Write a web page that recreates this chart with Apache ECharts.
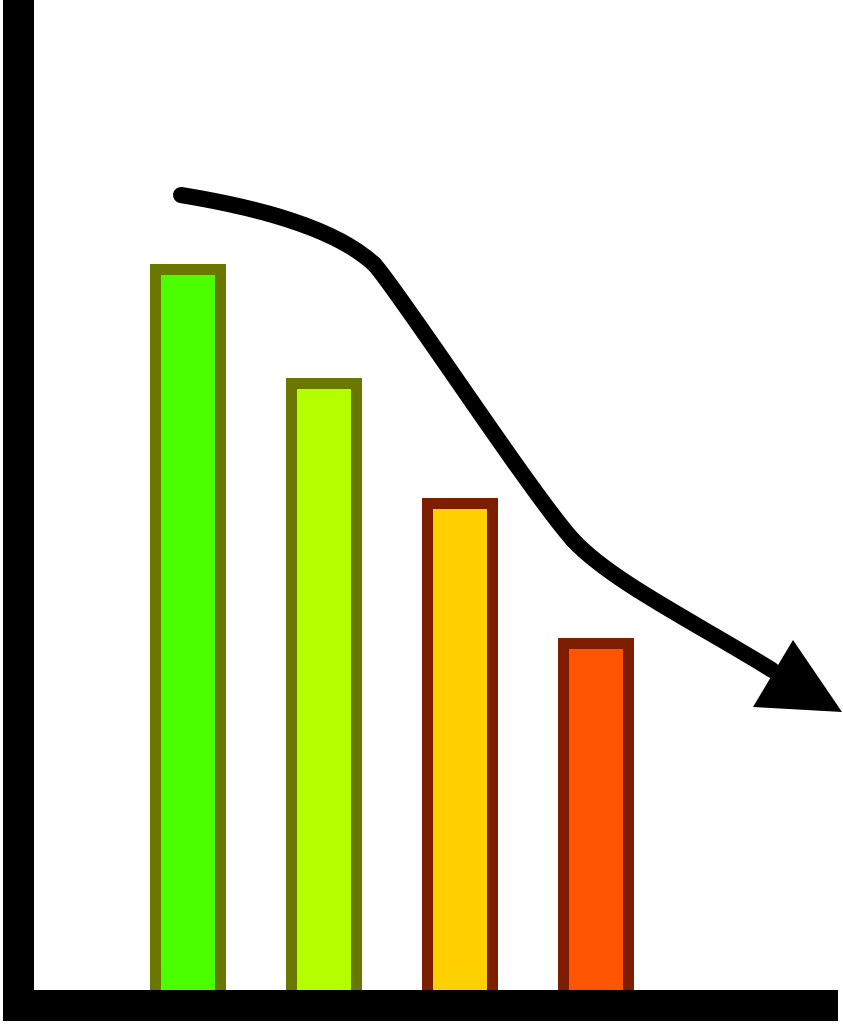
<!DOCTYPE html>
<html>
<head>
<meta charset="utf-8">
<script src="https://cdn.jsdelivr.net/npm/echarts@6/dist/echarts.min.js"></script>
<style>
  html, body { margin: 0; padding: 0; background: #fff; }
  #chartContainer { width: 843px; height: 1024px; }
</style>
</head>
<body>
<div id="chartContainer"></div>
<script>
'use strict';
// data
const categories = ['1', '2', '3', '4'];
const values = [74.1, 62.7, 50.7, 36.7];
const fillColors = ['#4CFF00', '#B3FF00', '#FFD000', '#FF5500'];
const borderColors = ['#6B7800', '#6B7800', '#7E1E00', '#7E1E00'];
// trend arrow (decoration, pixels): [x1, y1, cpx1, cpy1, cpx2, cpy2, x2, y2]
const arrowSegments = [
    [181, 195, 260, 208, 335, 228, 374, 264],
    [374, 264, 394, 284, 532, 495, 573, 540],
    [573, 540, 612, 582, 700, 625, 772, 670]
];
const arrowHead = [[793, 640], [842, 712], [753, 707]];

let initChart = (function() {
    let chartContainer = document.getElementById('chartContainer');
    let demoChart = echarts.init(chartContainer);

    let frameLine = {
        show: true,
        lineStyle: {
            color: '#000',
            width: 31,
            cap: 'square'
        }
    };

    let arrowGraphics = arrowSegments.map(s => ({
        type: 'bezierCurve',
        z: 20,
        shape: {
            x1: s[0], y1: s[1],
            cpx1: s[2], cpy1: s[3],
            cpx2: s[4], cpy2: s[5],
            x2: s[6], y2: s[7]
        },
        style: {
            stroke: '#000',
            fill: null,
            lineWidth: 16,
            lineCap: 'round'
        }
    }));
    arrowGraphics.push({
        type: 'polygon',
        z: 20,
        shape: {
            points: arrowHead
        },
        style: {
            fill: '#000'
        }
    });

    let option = {
        backgroundColor: '#fff',
        animation: false,
        grid: [{
            // frame axes
            left: 18.5,
            right: 20.5,
            top: 0,
            bottom: 19
        }, {
            // bars
            left: 120,
            width: 544,
            top: 5,
            bottom: 19
        }],
        xAxis: [{
            gridIndex: 0,
            type: 'value',
            min: 0,
            max: 1,
            z: 10,
            axisLine: frameLine,
            axisTick: { show: false },
            axisLabel: { show: false },
            splitLine: { show: false }
        }, {
            gridIndex: 1,
            type: 'category',
            data: categories,
            show: false
        }],
        yAxis: [{
            gridIndex: 0,
            type: 'value',
            min: 0,
            max: 1,
            z: 10,
            axisLine: frameLine,
            axisTick: { show: false },
            axisLabel: { show: false },
            splitLine: { show: false }
        }, {
            gridIndex: 1,
            type: 'value',
            min: 0,
            max: 100,
            show: false
        }],
        series: [{
            type: 'bar',
            xAxisIndex: 1,
            yAxisIndex: 1,
            barWidth: 76,
            data: values.map((v, i) => ({
                value: v,
                itemStyle: {
                    color: fillColors[i],
                    borderColor: borderColors[i],
                    borderWidth: 11
                }
            }))
        }],
        graphic: arrowGraphics
    };

    demoChart.setOption(option);
})();
</script>
</body>
</html>
